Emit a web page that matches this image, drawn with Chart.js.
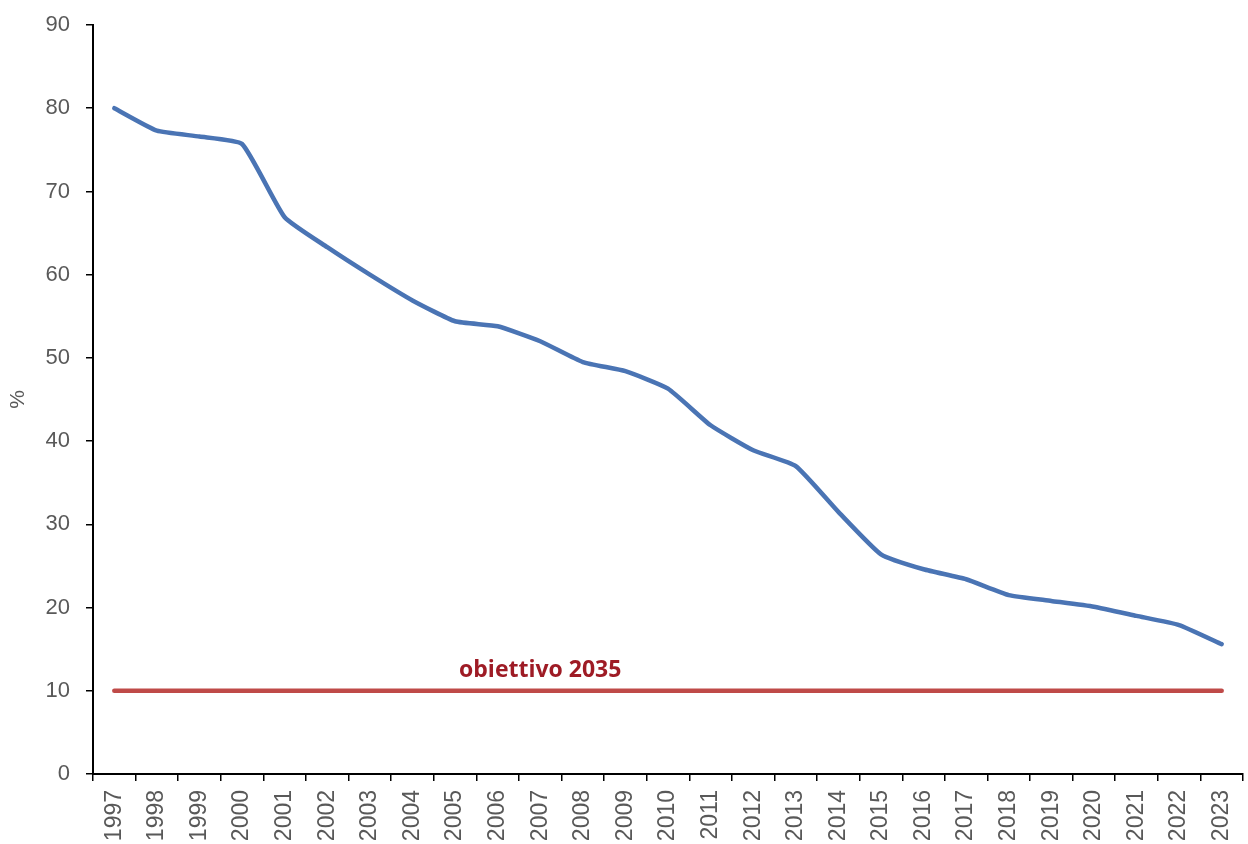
<!DOCTYPE html>
<html>
<head>
<meta charset="utf-8">
<script src="https://cdn.jsdelivr.net/npm/chart.js@4"></script>
<style>
  html, body { margin: 0; padding: 0; background: #ffffff; }
  #wrap { width: 1248px; height: 844px; position: relative; }
</style>
</head>
<body>
<div id="wrap"><canvas id="c" width="1248" height="844"></canvas></div>
<script>
const years = ['1997','1998','1999','2000','2001','2002','2003','2004','2005','2006','2007','2008','2009','2010','2011','2012','2013','2014','2015','2016','2017','2018','2019','2020','2021','2022','2023'];
const share = [80.0, 77.3, 76.6, 75.7, 66.9, 63.3, 60.0, 56.9, 54.4, 53.8, 52.0, 49.5, 48.4, 46.3, 41.9, 38.9, 37.0, 31.5, 26.4, 24.6, 23.4, 21.5, 20.8, 20.1, 19.0, 17.9, 15.6];
const target = [10, 10, 10, 10, 10, 10, 10, 10, 10, 10, 10, 10, 10, 10, 10, 10, 10, 10, 10, 10, 10, 10, 10, 10, 10, 10, 10];
const targetLabel = 'obiettivo 2035';
const targetLabelYear = '2007';
const yTicks = [0, 10, 20, 30, 40, 50, 60, 70, 80, 90];
const yTitle = '%';

const labelPlugin = {
  id: 'targetLabel',
  afterDatasetsDraw(chart) {
    const { ctx, scales } = chart;
    const x = scales.x.getPixelForValue(years.indexOf(targetLabelYear));
    const y = scales.y.getPixelForValue(target[0]);
    ctx.save();
    ctx.font = 'bold 23px "Open Sans", "Liberation Sans", sans-serif';
    ctx.fillStyle = '#9e1b25';
    ctx.textAlign = 'center';
    ctx.textBaseline = 'alphabetic';
    ctx.fillText(targetLabel, x, y - 14);
    ctx.restore();
  }
};

new Chart(document.getElementById('c'), {
  type: 'line',
  data: {
    labels: years,
    datasets: [
      {
        data: share,
        borderColor: '#4a74b4',
        borderWidth: 4.5,
        pointRadius: 0,
        tension: 0.15,
        fill: false,
        borderJoinStyle: 'round',
        borderCapStyle: 'round'
      },
      {
        data: target,
        borderColor: '#bf4a48',
        borderWidth: 4.5,
        pointRadius: 0,
        tension: 0,
        fill: false,
        borderCapStyle: 'round'
      }
    ]
  },
  options: {
    responsive: false,
    animation: false,
    layout: { padding: { top: 25, right: 5, left: 0, bottom: 0 } },
    plugins: { legend: { display: false }, tooltip: { enabled: false } },
    scales: {
      x: {
        type: 'category',
        offset: true,
        grid: { offset: true, drawOnChartArea: false, drawTicks: true, tickLength: 7, color: '#000000', lineWidth: 1.5 },
        border: { display: true, color: '#000000', width: 2 },
        ticks: {
          color: '#595959',
          font: { family: 'Liberation Sans, Arial, sans-serif', size: 23 },
          minRotation: 90,
          maxRotation: 90,
          autoSkip: false,
          padding: 9
        },
        afterFit(scale) { scale.height = 70; scale.paddingLeft = 0; scale.paddingRight = 0; }
      },
      y: {
        min: 0,
        max: 90,
        afterBuildTicks(scale) { scale.ticks = yTicks.map(v => ({ value: v })); },
        grid: { drawOnChartArea: false, drawTicks: true, tickLength: 7, color: '#000000', lineWidth: 1.5 },
        border: { display: true, color: '#000000', width: 2 },
        ticks: {
          color: '#595959',
          font: { family: 'Liberation Sans, Arial, sans-serif', size: 22 },
          padding: 16
        },
        title: {
          display: true,
          text: yTitle,
          color: '#595959',
          font: { family: 'Liberation Sans, Arial, sans-serif', size: 21 },
          padding: { top: 6, bottom: 0 }
        },
        afterFit(scale) { scale.width = 93; scale.paddingTop = 0; scale.paddingBottom = 0; }
      }
    }
  },
  plugins: [labelPlugin]
});
</script>
</body>
</html>
